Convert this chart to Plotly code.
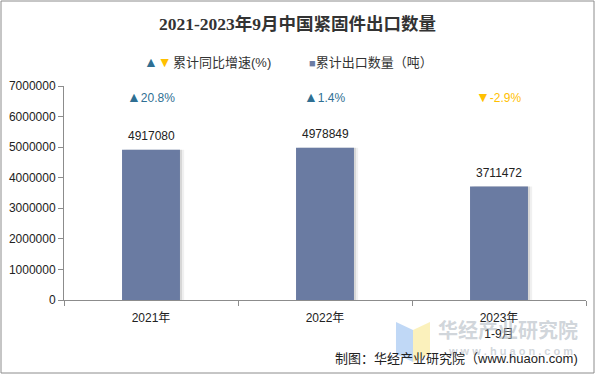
import plotly.graph_objects as go

categories = ["2021年", "2022年", "2023年<br>1-9月"]
export_qty = [4917080, 4978849, 3711472]
growth = [20.8, 1.4, -2.9]
y_ticks = [0, 1000000, 2000000, 3000000, 4000000, 5000000, 6000000, 7000000]

W, H = 595, 374
L, R, T, B = 64, 9, 86, 74
pw, ph = W - L - R, H - T - B

def px(x):
    return (x - L) / pw

def py(y):
    return (H - B - y) / ph

FONT = "Arial, Liberation Sans, Noto Sans CJK SC"
BAR = "#6A7BA2"
UP = "#2F6F93"
DOWN = "#FFC000"

fig = go.Figure()
# soft shadow (two layers for a gradient look)
fig.add_trace(go.Bar(x=categories, y=export_qty, width=0.333, offset=-0.1665 + 0.024,
                     marker=dict(color="rgba(0,0,0,0.06)", line=dict(width=0)),
                     hoverinfo="skip", showlegend=False))
fig.add_trace(go.Bar(x=categories, y=export_qty, width=0.333, offset=-0.1665 + 0.012,
                     marker=dict(color="rgba(0,0,0,0.10)", line=dict(width=0)),
                     hoverinfo="skip", showlegend=False))
fig.add_trace(go.Bar(x=categories, y=export_qty, width=0.333, offset=-0.1665,
                     marker=dict(color=BAR, line=dict(width=0)),
                     showlegend=False))

ann = []
for c, v in zip(categories, export_qty):
    ann.append(dict(x=c, y=v, text=str(v), showarrow=False, yanchor="bottom", yshift=5,
                    font=dict(family=FONT, size=12, color="#222222")))
for c, g in zip(categories, growth):
    if g >= 0:
        t = "<span style='font-size:14px'>▲</span>" + f"{g}%"
        col = UP
    else:
        t = "<span style='font-size:14px'>▼</span>" + f"{g}%"
        col = DOWN
    ann.append(dict(x=c, y=6640000, text=t, showarrow=False, yanchor="middle",
                    font=dict(family=FONT, size=12, color=col)))

# title
ann.append(dict(xref="paper", yref="paper", x=px(297), y=py(24), text="<b>2021-2023年9月中国紧固件出口数量</b>",
                showarrow=False, xanchor="center", yanchor="middle",
                font=dict(family="Liberation Serif, Noto Sans CJK SC", size=17.5, color="#333333")))
# legend
ann.append(dict(xref="paper", yref="paper", x=px(142), y=py(62),
                text="<span style='color:%s'>▲</span><span style='color:%s'>▼</span>" % (UP, DOWN),
                showarrow=False, xanchor="left", yanchor="middle", font=dict(family=FONT, size=14)))
ann.append(dict(xref="paper", yref="paper", x=px(171), y=py(62), text="累计同比增速(%)",
                showarrow=False, xanchor="left", yanchor="middle", font=dict(family=FONT, size=13, color="#333333")))
ann.append(dict(xref="paper", yref="paper", x=px(307), y=py(62),
                text="<span style='color:%s;font-size:11px'>■</span>累计出口数量（吨）" % BAR,
                showarrow=False, xanchor="left", yanchor="middle", font=dict(family=FONT, size=13, color="#333333")))
# watermark
ann.append(dict(xref="paper", yref="paper", x=px(508), y=py(329), text="<b>华经产业研究院</b>",
                showarrow=False, xanchor="center", yanchor="middle",
                font=dict(family="Noto Sans CJK SC", size=20, color="rgba(170,178,188,0.55)")))
ann.append(dict(xref="paper", yref="paper", x=px(510), y=py(351), text="<b>w w w . h u a o n . c o m</b>",
                showarrow=False, xanchor="center", yanchor="middle",
                font=dict(family=FONT, size=11, color="rgba(170,178,188,0.55)")))
# source
ann.append(dict(xref="paper", yref="paper", x=px(580), y=py(358), text="制图：华经产业研究院（www.huaon.com)",
                showarrow=False, xanchor="right", yanchor="middle", font=dict(family=FONT, size=13, color="#222222")))

shapes = [
    dict(type="rect", xref="paper", yref="paper", x0=px(1), x1=px(594), y0=py(373), y1=py(1),
         line=dict(color="#8C8C8C", width=1), fillcolor="rgba(0,0,0,0)", layer="below"),
    dict(type="path", xref="paper", yref="paper",
         path="M %f %f L %f %f L %f %f L %f %f Z" % (px(396), py(322), px(413), py(330), px(413), py(362), px(396), py(354)),
         fillcolor="rgba(150,190,240,0.6)", line=dict(width=0), layer="below"),
    dict(type="path", xref="paper", yref="paper",
         path="M %f %f L %f %f L %f %f L %f %f Z" % (px(413), py(330), px(430), py(322), px(430), py(354), px(413), py(362)),
         fillcolor="rgba(250,235,160,0.7)", line=dict(width=0), layer="below"),
]

fig.update_layout(
    width=W, height=H, margin=dict(l=L, r=R, t=T, b=B, autoexpand=False),
    paper_bgcolor="white", plot_bgcolor="white",
    barmode="overlay", showlegend=False,
    annotations=ann, shapes=shapes,
    xaxis=dict(type="category", showline=True, linecolor="#8C8C8C", linewidth=1,
               ticks="outside", tickson="boundaries", ticklen=5, tickcolor="#8C8C8C",
               showgrid=False, automargin=False, range=[-0.5, 2.5], ticklabelstandoff=7,
               tickfont=dict(family=FONT, size=12, color="#222222")),
    yaxis=dict(range=[0, 7000000], tickvals=y_ticks, ticktext=[str(v) for v in y_ticks],
               showline=True, linecolor="#8C8C8C", linewidth=1, ticks="outside", ticklen=5,
               tickcolor="#8C8C8C", showgrid=False, zeroline=False, automargin=False,
               tickfont=dict(family=FONT, size=12, color="#222222")),
)

fig.write_html("out.html", config={"displayModeBar": False},
               post_script="document.body.style.margin='0';document.body.style.overflow='hidden';")
